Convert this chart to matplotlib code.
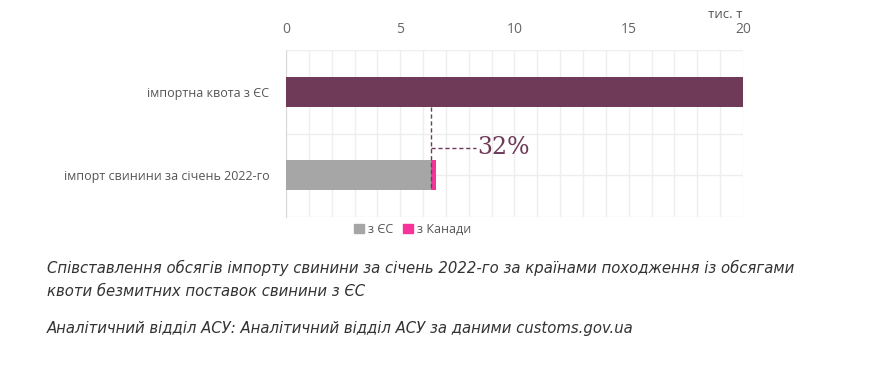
import matplotlib.pyplot as plt
from matplotlib.patches import Patch

plt.rcParams['font.family'] = ['Open Sans', 'DejaVu Sans']

categories = ['імпортна квота з ЄС', 'імпорт свинини за січень 2022-го']
quota = [20, 0]
from_eu = [0, 6.33]
from_canada = [0, 0.22]
share_label = '32%'
xticks = [0, 5, 10, 15, 20]

c_quota = '#6e3a57'
c_eu = '#a6a6a6'
c_ca = '#f7339a'

fig = plt.figure(figsize=(8.87, 3.73), dpi=100)
ax = fig.add_axes([0.3224, 0.418, 0.5152, 0.448])

ypos = [0, 1]
h = 0.36
ax.barh(ypos[0], quota[0], height=h, color=c_quota, zorder=3)
ax.barh(ypos[1], from_eu[1], height=h, color=c_eu, zorder=3)
ax.barh(ypos[1], from_canada[1], left=from_eu[1], height=h, color=c_ca, zorder=3)

ax.set_xlim(0, 20)
ax.set_ylim(1.5, -0.5)
ax.set_xticks(xticks)
ax.set_xticks(range(0, 21), minor=True)
ax.set_yticks([-0.5, 0, 0.5, 1, 1.5], minor=True)
ax.set_yticks(ypos)
ax.set_yticklabels(categories)
ax.xaxis.tick_top()
ax.tick_params(axis='x', which='both', length=0, pad=9, labelsize=10, labelcolor='#666666')
ax.tick_params(axis='y', which='both', length=0, pad=12, labelsize=9, labelcolor='#555555')
ax.grid(which='minor', color='#eeeeee', linewidth=1, zorder=0)
ax.grid(which='major', color='#eeeeee', linewidth=1, zorder=0)
for s in ['top', 'right', 'bottom']:
    ax.spines[s].set_visible(False)
ax.spines['left'].set_color('#d9d9d9')

# dashed connector and share label
xend = from_eu[1]
ax.plot([xend, xend], [h / 2, 1 + h / 2], ls=(0, (3, 2)), color=c_quota, lw=1, zorder=4)
ax.plot([xend, 8.3], [0.67, 0.67], ls=(0, (3, 2)), color=c_quota, lw=1, zorder=4)
ax.text(8.35, 0.67, share_label, color=c_quota, fontsize=17, va='center', ha='left',
        family=['DejaVu Serif'])

ax.text(1.0, 1.215, 'тис. т', transform=ax.transAxes, ha='right', va='center',
        fontsize=9.5, color='#555555')

handles = [Patch(color=c_eu, label='з ЄС'), Patch(color=c_ca, label='з Канади')]
fig.legend(handles=handles, loc='center', bbox_to_anchor=(0.465, 0.385), ncol=2, frameon=False,
           fontsize=9, handlelength=0.8, handleheight=0.8, handletextpad=0.3, columnspacing=0.8,
           labelcolor='#555555')

cap_font = ['DejaVu Sans']
fig.text(47 / 887, 1 - 268 / 373, 'Співставлення обсягів імпорту свинини за січень 2022-го за країнами походження із обсягами',
         fontsize=10.7, style='italic', color='#333333', va='center', family=cap_font)
fig.text(47 / 887, 1 - 292 / 373, 'квоти безмитних поставок свинини з ЄС',
         fontsize=10.7, style='italic', color='#333333', va='center', family=cap_font)
fig.text(47 / 887, 1 - 328 / 373, 'Аналітичний відділ АСУ: Аналітичний відділ АСУ за даними customs.gov.ua',
         fontsize=10.7, style='italic', color='#333333', va='center', family=cap_font)

fig.savefig('out.png', dpi=100, facecolor='white')
